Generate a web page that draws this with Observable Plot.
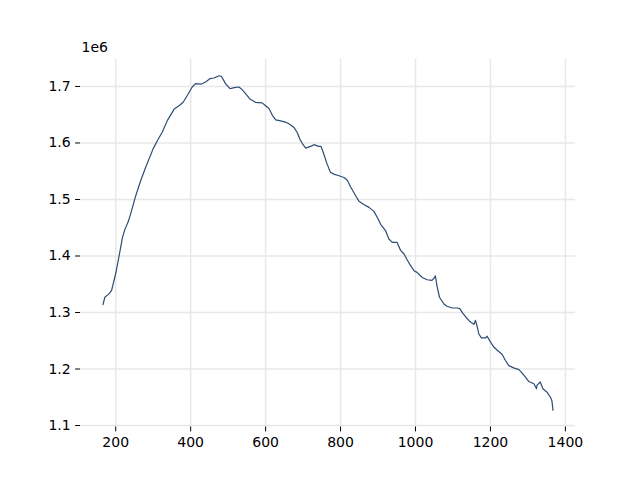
<!DOCTYPE html>
<html>
<head>
<meta charset="utf-8">
<script src="https://cdn.jsdelivr.net/npm/d3@7"></script>
<script src="https://cdn.jsdelivr.net/npm/@observablehq/plot@0.6"></script>
<style>
  html, body { margin: 0; padding: 0; background: #fff; }
  #chart { width: 640px; height: 480px; }
</style>
</head>
<body>
<div id="chart"></div>
<script>
const xs = [166,171,182,189,200,209,218,225,233,240,246,251,255,267,280,300,311,324,338,356,369,380,391,404,413,427,440,452,462,476,482,493,505,516,529,538,547,558,573,591,600,609,618,627,640,653,662,675,684,692,698,707,720,729,742,748,755,764,773,782,796,809,818,827,840,849,862,876,889,900,907,920,929,938,951,960,969,978,987,996,1004,1018,1031,1044,1051,1053,1058,1064,1076,1084,1098,1111,1118,1127,1138,1147,1156,1160,1164,1169,1176,1187,1191,1200,1209,1222,1231,1240,1249,1262,1276,1284,1293,1302,1316,1323,1324,1333,1340,1351,1360,1364,1367];
const ys = [1.314,1.327,1.333,1.339,1.369,1.400,1.433,1.448,1.460,1.475,1.489,1.501,1.510,1.534,1.557,1.590,1.604,1.619,1.640,1.660,1.666,1.672,1.684,1.699,1.705,1.704,1.708,1.714,1.715,1.719,1.718,1.705,1.696,1.698,1.699,1.694,1.687,1.678,1.672,1.671,1.666,1.661,1.649,1.641,1.639,1.637,1.634,1.628,1.619,1.606,1.599,1.591,1.594,1.597,1.594,1.594,1.581,1.563,1.548,1.545,1.542,1.539,1.534,1.522,1.507,1.497,1.491,1.486,1.479,1.466,1.456,1.445,1.430,1.424,1.424,1.410,1.404,1.393,1.383,1.374,1.371,1.362,1.358,1.357,1.362,1.365,1.345,1.327,1.315,1.311,1.308,1.308,1.307,1.298,1.289,1.283,1.279,1.286,1.277,1.262,1.255,1.255,1.258,1.248,1.239,1.231,1.226,1.215,1.206,1.202,1.199,1.193,1.186,1.178,1.174,1.165,1.171,1.177,1.165,1.159,1.150,1.144,1.127];
const xTicks = [200,400,600,800,1000,1200,1400];
const yTicks = [1.1,1.2,1.3,1.4,1.5,1.6,1.7];
const offsetLabel = "1e6";

const data = xs.map((x, i) => ({x, y: ys[i]}));

const chart = Plot.plot({
  width: 640,
  height: 480,
  marginLeft: 80,
  marginRight: 65,
  marginTop: 58.5,
  marginBottom: 53.5,
  style: {fontFamily: "DejaVu Sans", fontSize: "14px", background: "#fff", color: "#000"},
  x: {domain: [106, 1427]},
  y: {domain: [1.0974, 1.7486]},
  marks: [
    Plot.gridX(xTicks, {stroke: "#e8e8e8", strokeOpacity: 1, strokeWidth: 1.5}),
    Plot.gridY(yTicks, {stroke: "#e8e8e8", strokeOpacity: 1, strokeWidth: 1.5}),
    Plot.axisX(xTicks, {tickSize: 4.9, tickPadding: 4.9, label: null, tickFormat: d => String(d), fontSize: 14}),
    Plot.axisY(yTicks, {tickSize: 4.9, tickPadding: 4.9, label: null, tickFormat: d3.format(".1f"), fontSize: 14}),
    Plot.line(data, {x: "x", y: "y", stroke: "#2c4c74", strokeWidth: 1.2}),
    Plot.text([offsetLabel], {frameAnchor: "top-left", text: d => d, dx: 1, dy: -11, textAnchor: "start", lineAnchor: "middle", fontSize: 14})
  ]
});
document.getElementById("chart").appendChild(chart);
</script>
</body>
</html>
